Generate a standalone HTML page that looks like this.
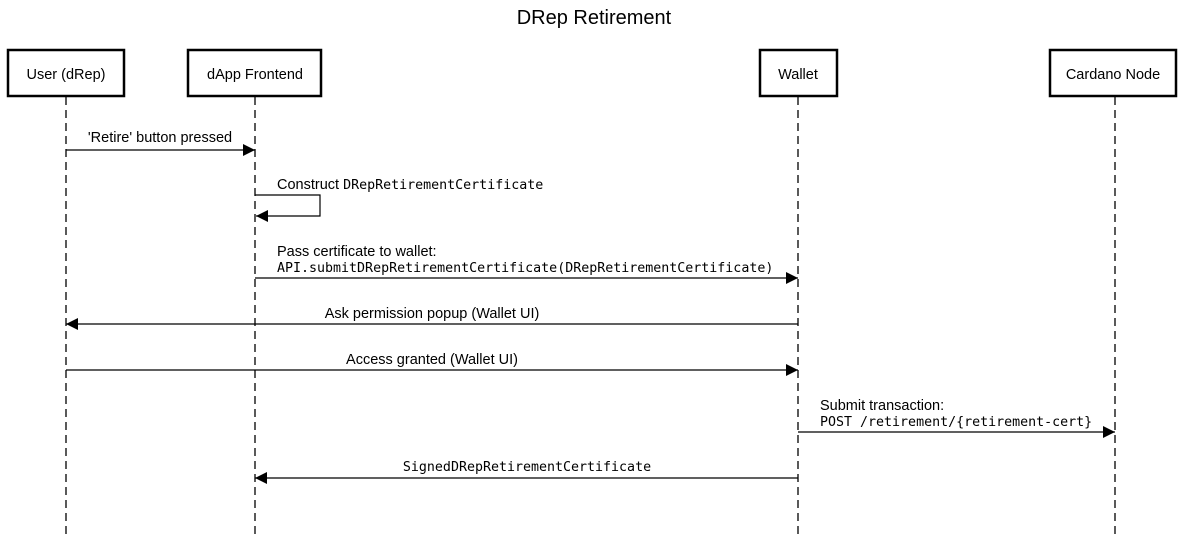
<!DOCTYPE html>
<html><head><meta charset="utf-8"><style>
html,body{margin:0;padding:0;background:#fff;}
svg text{font-family:"Liberation Sans",sans-serif;font-size:14.5px;fill:#000;}
svg .m{font-family:"DejaVu Sans Mono","Liberation Mono",monospace;font-size:13.3px;}
</style></head><body>
<svg width="1189" height="535" viewBox="0 0 1189 535" xmlns="http://www.w3.org/2000/svg">
<defs><marker id="a" markerWidth="13" markerHeight="12" refX="12" refY="6" orient="auto" markerUnits="userSpaceOnUse"><path d="M0,0 L12,6 L0,12 z" fill="#000"/></marker></defs>
<text x="594" y="24" text-anchor="middle" style="font-size:20px">DRep Retirement</text>
<g stroke="#000" stroke-width="1.3" stroke-dasharray="8,5" fill="none">
<line x1="66" y1="97" x2="66" y2="535"/><line x1="255" y1="97" x2="255" y2="535"/>
<line x1="798" y1="97" x2="798" y2="535"/><line x1="1115" y1="97" x2="1115" y2="535"/>
</g>
<g stroke="#000" stroke-width="2.5" fill="#fff">
<rect x="8" y="50" width="116" height="46"/><rect x="188" y="50" width="133" height="46"/>
<rect x="760" y="50" width="77" height="46"/><rect x="1050" y="50" width="126" height="46"/>
</g>
<text x="66" y="79" text-anchor="middle">User (dRep)</text>
<text x="255" y="79" text-anchor="middle">dApp Frontend</text>
<text x="798" y="79" text-anchor="middle">Wallet</text>
<text x="1113" y="79" text-anchor="middle">Cardano Node</text>
<g stroke="#000" stroke-width="1.2" fill="none" marker-end="url(#a)">
<line x1="66" y1="150" x2="255" y2="150"/>
<polyline points="255,195 320,195 320,216 256,216"/>
<line x1="255" y1="278" x2="798" y2="278"/>
<line x1="798" y1="324" x2="66" y2="324"/>
<line x1="66" y1="370" x2="798" y2="370"/>
<line x1="798" y1="432" x2="1115" y2="432"/>
<line x1="798" y1="478" x2="255" y2="478"/>
</g>
<text x="160" y="142" text-anchor="middle">'Retire' button pressed</text>
<text x="277" y="189">Construct <tspan class="m">DRepRetirementCertificate</tspan></text>
<text x="277" y="256">Pass certificate to wallet:</text>
<text x="277" y="272" class="m">API.submitDRepRetirementCertificate(DRepRetirementCertificate)</text>
<text x="432" y="318" text-anchor="middle">Ask permission popup (Wallet UI)</text>
<text x="432" y="364" text-anchor="middle">Access granted (Wallet UI)</text>
<text x="820" y="410">Submit transaction:</text>
<text x="820" y="426" class="m">POST /retirement/{retirement-cert}</text>
<text x="527" y="471" text-anchor="middle" class="m">SignedDRepRetirementCertificate</text>
</svg>
</body></html>
